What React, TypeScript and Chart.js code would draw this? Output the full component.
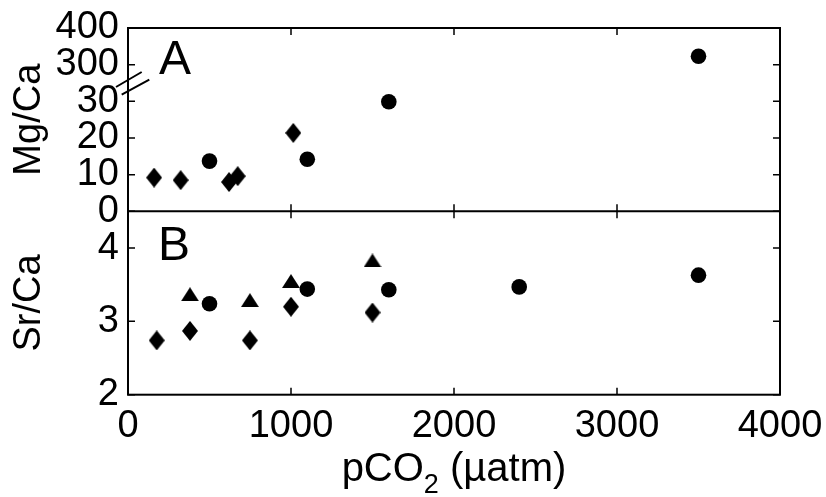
import React, { useEffect, useRef } from "react";
import { Chart, registerables } from "chart.js";

Chart.register(...registerables);

// ---- data ----
const xTickValues = [0, 1000, 2000, 3000, 4000];
const xTickLabels = ["0", "1000", "2000", "3000", "4000"];
const mgCaTickValues = [0, 10, 20, 30, 300, 400];
const mgCaTickLabels = ["0", "10", "20", "30", "300", "400"];
const srCaTickValues = [2, 3, 4];
const srCaTickLabels = ["2", "3", "4"];

// Panel A (Mg/Ca)
const pco2DiamondA = [160, 323, 620, 673, 1014];
const mgCaDiamond = [9.2, 8.5, 8.0, 9.6, 21.4];
const pco2CircleA = [500, 1100, 1600, 3500];
const mgCaCircle = [13.7, 14.2, 29.9, 323];

// Panel B (Sr/Ca)
const pco2DiamondB = [176, 380, 748, 1000, 1500];
const srCaDiamond = [2.74, 2.87, 2.74, 3.2, 3.12];
const pco2Triangle = [380, 748, 1000, 1500];
const srCaTriangle = [3.37, 3.29, 3.55, 3.83];
const pco2CircleB = [500, 1100, 1600, 2400, 3500];
const srCaCircle = [3.24, 3.44, 3.43, 3.47, 3.63];

const FONT = "'Liberation Sans', Arial, Helvetica, sans-serif";

// broken axis mapping: 0..30 -> 0..3, 300..400 -> 4..5
function brokenMg(v: number) {
  return v <= 30 ? v / 10 : 4 + (v - 300) / 100;
}

function makeDiamond(w: number, h: number) {
  const c = document.createElement("canvas");
  c.width = w;
  c.height = h;
  const g = c.getContext("2d")!;
  g.fillStyle = "#000";
  g.beginPath();
  g.moveTo(w / 2, 0);
  g.lineTo(w, h / 2);
  g.lineTo(w / 2, h);
  g.lineTo(0, h / 2);
  g.closePath();
  g.fill();
  return c;
}

function makeTriangle(w: number, h: number) {
  const c = document.createElement("canvas");
  c.width = w;
  c.height = h;
  const g = c.getContext("2d")!;
  g.fillStyle = "#000";
  g.beginPath();
  g.moveTo(w / 2, 0);
  g.lineTo(w, h);
  g.lineTo(0, h);
  g.closePath();
  g.fill();
  return c;
}

const framePlugin = {
  id: "frame",
  afterDraw(chart: any) {
    const { ctx, chartArea } = chart;
    const { left, right, top, bottom } = chartArea;
    const x = chart.scales.x;
    const yA = chart.scales.yA;
    const yB = chart.scales.yB;
    const tl = 7;
    ctx.save();
    ctx.strokeStyle = "#000";
    ctx.lineWidth = 2;
    ctx.strokeRect(left, top, right - left, bottom - top);
    ctx.beginPath();
    ctx.moveTo(left, yA.bottom);
    ctx.lineTo(right, yA.bottom);
    ctx.moveTo(left, yB.top);
    ctx.lineTo(right, yB.top);
    ctx.stroke();

    ctx.lineWidth = 1.5;
    ctx.beginPath();
    for (const v of xTickValues) {
      const px = x.getPixelForValue(v);
      for (const s of [yA, yB]) {
        ctx.moveTo(px, s.top);
        ctx.lineTo(px, s.top + tl);
        ctx.moveTo(px, s.bottom);
        ctx.lineTo(px, s.bottom - tl);
      }
    }
    for (const v of mgCaTickValues) {
      const py = yA.getPixelForValue(brokenMg(v));
      ctx.moveTo(left, py);
      ctx.lineTo(left + tl, py);
      ctx.moveTo(right, py);
      ctx.lineTo(right - tl, py);
    }
    for (const v of srCaTickValues) {
      const py = yB.getPixelForValue(v);
      ctx.moveTo(left, py);
      ctx.lineTo(left + tl, py);
      ctx.moveTo(right, py);
      ctx.lineTo(right - tl, py);
    }
    ctx.stroke();

    // axis break marks
    const by = yA.getPixelForValue(3.5);
    ctx.lineWidth = 2;
    ctx.beginPath();
    ctx.moveTo(left - 12, by + 4);
    ctx.lineTo(left + 13.7, by - 11);
    ctx.moveTo(left - 6.3, by + 11.6);
    ctx.lineTo(left + 21.3, by - 3.4);
    ctx.stroke();

    // panel letters
    ctx.fillStyle = "#000";
    ctx.textAlign = "left";
    ctx.textBaseline = "alphabetic";
    ctx.font = `48px ${FONT}`;
    ctx.fillText("A", left + 31, yA.top + 46);
    ctx.fillText("B", left + 30, yB.top + 49);

    // x title with subscript
    const big = `40px ${FONT}`;
    const small = `27px ${FONT}`;
    ctx.font = big;
    const w1 = ctx.measureText("pCO").width;
    const w3 = ctx.measureText(" (µatm)").width;
    ctx.font = small;
    const w2 = ctx.measureText("2").width;
    const total = w1 + w2 + w3;
    const cx = (left + right) / 2;
    const base = bottom + 86;
    let sx = cx - total / 2;
    ctx.font = big;
    ctx.fillText("pCO", sx, base);
    sx += w1;
    ctx.font = small;
    ctx.fillText("2", sx, base + 12);
    sx += w2;
    ctx.font = big;
    ctx.fillText(" (µatm)", sx, base);
    ctx.restore();
  },
};

export default function App() {
  const ref = useRef<HTMLCanvasElement | null>(null);
  useEffect(() => {
    if (!ref.current) return;
    const diamond = makeDiamond(16, 20);
    const triangle = makeTriangle(18, 14);
    const tickFont = { family: FONT, size: 38 };
    const pts = (xs: number[], ys: number[], f: (v: number) => number) =>
      xs.map((xv, i) => ({ x: xv, y: f(ys[i]) }));
    const id = (v: number) => v;
    const base = { backgroundColor: "#000", borderColor: "#000", borderWidth: 0, radius: 8 };
    const fitY = (s: any) => {
      s.width = 128;
      s.paddingTop = 0;
      s.paddingBottom = 0;
    };
    const chart = new Chart(ref.current, {
      type: "scatter",
      data: {
        datasets: [
          { ...base, data: pts(pco2DiamondA, mgCaDiamond, brokenMg), yAxisID: "yA", pointStyle: diamond as any },
          { ...base, data: pts(pco2CircleA, mgCaCircle, brokenMg), yAxisID: "yA", pointStyle: "circle", radius: 7.8 },
          { ...base, data: pts(pco2DiamondB, srCaDiamond, id), yAxisID: "yB", pointStyle: diamond as any },
          { ...base, data: pts(pco2Triangle, srCaTriangle, id), yAxisID: "yB", pointStyle: triangle as any },
          { ...base, data: pts(pco2CircleB, srCaCircle, id), yAxisID: "yB", pointStyle: "circle", radius: 7.8 },
        ],
      },
      options: {
        responsive: false,
        devicePixelRatio: 1,
        animation: false,
        layout: { padding: { left: 0, top: 28, right: 46, bottom: 0 } },
        plugins: { legend: { display: false }, tooltip: { enabled: false } },
        scales: {
          x: {
            type: "linear",
            position: "bottom",
            min: 0,
            max: 4000,
            afterBuildTicks: (s: any) => {
              s.ticks = xTickValues.map((v) => ({ value: v }));
            },
            afterFit: (s: any) => {
              s.height = 102.3;
              s.paddingLeft = 0;
              s.paddingRight = 0;
            },
            ticks: {
              font: tickFont,
              color: "#000",
              padding: 9,
              maxRotation: 0,
              autoSkip: false,
              callback: (_v: any, i: number) => xTickLabels[i],
            },
            grid: { display: false, drawTicks: false },
            border: { display: false },
          },
          yB: {
            type: "linear",
            position: "left",
            stack: "v",
            stackWeight: 1,
            min: 2,
            max: 4.5,
            afterBuildTicks: (s: any) => {
              s.ticks = srCaTickValues.map((v) => ({ value: v }));
            },
            afterFit: fitY,
            ticks: {
              font: tickFont,
              color: "#000",
              padding: 9,
              autoSkip: false,
              callback: (_v: any, i: number) => srCaTickLabels[i],
            },
            grid: { display: false, drawTicks: false },
            border: { display: false },
            title: { display: true, text: "Sr/Ca", color: "#000", font: tickFont, padding: { top: 7, bottom: 0 } },
          },
          yA: {
            type: "linear",
            position: "left",
            stack: "v",
            stackWeight: 1,
            min: 0,
            max: 5,
            afterBuildTicks: (s: any) => {
              s.ticks = mgCaTickValues.map((v) => ({ value: brokenMg(v) }));
            },
            afterFit: fitY,
            ticks: {
              font: tickFont,
              color: "#000",
              padding: 9,
              autoSkip: false,
              callback: (_v: any, i: number) => mgCaTickLabels[i],
            },
            grid: { display: false, drawTicks: false },
            border: { display: false },
            title: { display: true, text: "Mg/Ca", color: "#000", font: tickFont, padding: { top: 7, bottom: 0 } },
          },
        },
      },
      plugins: [framePlugin],
    } as any);
    return () => chart.destroy();
  }, []);
  return (
    <div style={{ position: "absolute", left: 0, top: 0, width: 826, height: 497, background: "#fff" }}>
      <canvas ref={ref} width={826} height={497} />
    </div>
  );
}
